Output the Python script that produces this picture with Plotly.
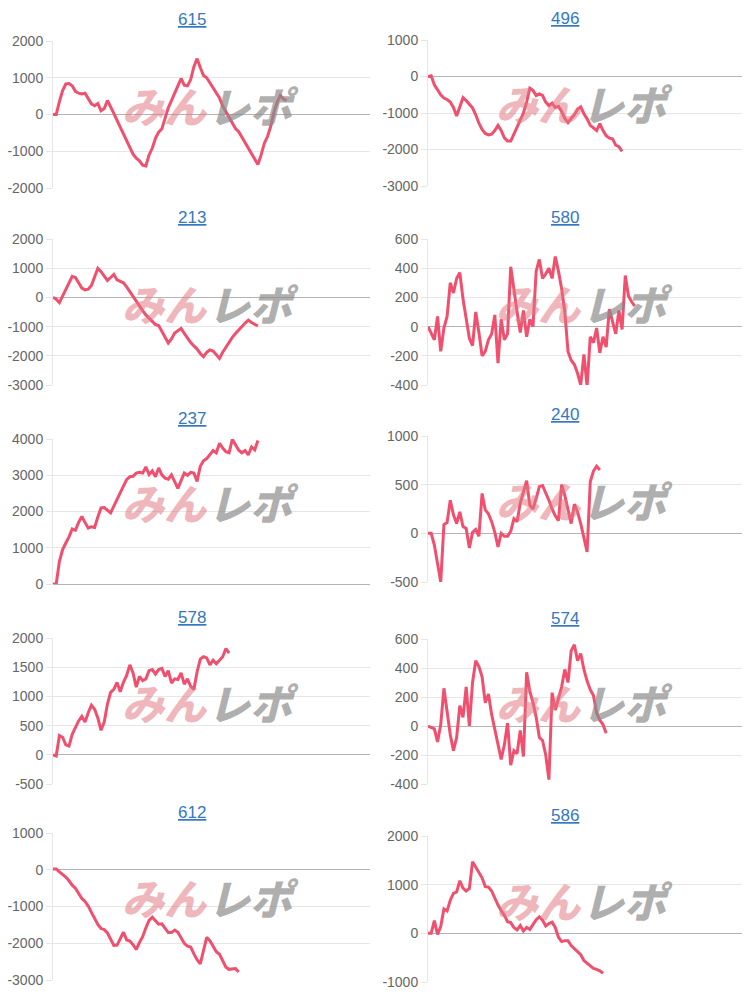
"""
plot.py -- 10 small balance charts (2 x 5 grid) with a watermark in each panel.
"""

import plotly.graph_objects as go

# ------------------------------------------------------------------
# Data
# ------------------------------------------------------------------

CHART_IDS = ["615", "496", "213", "580", "237", "240", "578", "574", "612", "586"]

VALUES_615 = [
    0, 0, 350, 650, 830, 840, 780, 630, 580, 560, 580, 430, 290, 240, 300, 100,
    160, 380, 220, 30, -160, -350, -540, -720, -900, -1080, -1190, -1260, -1380,
    -1400, -1100, -920, -650, -480, -390, -100, 180, 380, 560, 780, 980, 800, 780,
    950, 1300, 1520, 1280, 1060, 1000, 860, 720, 560, 450, 230, 80, -80, -260,
    -380, -470, -620, -780, -900, -1050, -1200, -1360, -1100, -780, -600, -320,
    60, 330, 520, 420, 380,
]
VALUES_496 = [
    0, 20, -230, -380, -500, -590, -630, -700, -850, -1080, -850, -580, -660, -770,
    -860, -1050, -1280, -1450, -1560, -1600, -1580, -1480, -1340, -1480, -1680,
    -1770, -1770, -1580, -1370, -1200, -1000, -700, -320, -380, -520, -480, -520,
    -700, -800, -730, -850, -820, -960, -1150, -1260, -1150, -1050, -900, -830,
    -1020, -1160, -1340, -1420, -1480, -1290, -1480, -1620, -1690, -1710, -1880,
    -1920, -2050,
]
VALUES_213 = [
    0, -60, -180, 60, 250, 480, 720, 680, 480, 320, 260, 280, 410, 700, 1000, 880,
    720, 580, 680, 790, 600, 550, 500, 360, 190, 20, -150, -300, -450, -600, -720,
    -830, -930, -960, -1150, -1380, -1560, -1420, -1220, -1140, -1060, -1230,
    -1400, -1550, -1660, -1770, -1920, -2030, -1880, -1800, -1840, -1950, -2090,
    -1880, -1700, -1520, -1370, -1240, -1100, -1000, -880, -780, -860, -930, -980,
]
VALUES_580 = [
    0, -50, -90, 70, -170, -10, 70, 300, 230, 330, 370, 190, 40, -80, -130, 100,
    -40, -200, -170, -90, -50, 80, -250, 50, -90, -50, 410, 240, 100, -40, 110, -70,
    50, 0, 380, 460, 330, 360, 400, 330, 480, 380, 260, 100, -170, -230, -260, -320,
    -400, -190, -410, -70, -110, -10, -180, -70, -140, 120, 40, -50, 110, -20, 350,
    210, 170, 140,
]
VALUES_237 = [
    0, 0, 620, 950, 1130, 1300, 1520, 1480, 1700, 1860, 1700, 1540, 1580, 1560,
    1850, 2100, 2110, 2030, 1960, 2150, 2320, 2500, 2700, 2880, 2960, 2970, 3060,
    3080, 3060, 3230, 3020, 3120, 2960, 3200, 3010, 2920, 2890, 3010, 2840, 2640,
    2850, 3060, 3000, 3080, 3060, 2830, 3250, 3400, 3460, 3580, 3680, 3620, 3880,
    3750, 3650, 3620, 3990, 3840, 3690, 3620, 3680, 3560, 3780, 3700, 3960,
]
VALUES_240 = [
    0, 0, -120, -300, -500, 90, 110, 340, 190, 100, 220, 70, 50, -150, 10, 40, -30,
    410, 240, 200, 120, 10, -140, 0, -30, -30, 20, 150, 120, 310, 440, 540, 290, 250,
    360, 480, 490, 420, 340, 250, 180, 130, 500, 390, 230, 100, 300, 220, 100, -40,
    -190, 530, 640, 690, 650,
]
VALUES_578 = [
    0, -20, 330, 300, 170, 150, 350, 470, 580, 660, 560, 720, 850, 780, 630, 420,
    560, 870, 1070, 1120, 1240, 1080, 1240, 1360, 1540, 1400, 1160, 1340, 1270,
    1300, 1440, 1460, 1380, 1460, 1480, 1340, 1440, 1230, 1300, 1290, 1400, 1210,
    1300, 1170, 1120, 1420, 1640, 1680, 1660, 1540, 1620, 1560, 1630, 1680, 1820,
    1740,
]
VALUES_574 = [
    0, -10, -20, -110, 10, 260, 80, -60, -170, -80, 140, 60, 270, 0, 300, 450, 410,
    340, 160, 220, 80, -20, -120, -230, -130, 20, -270, -170, -190, -30, -210, 370,
    240, 160, 60, -80, -100, -200, -370, 230, 110, 200, 270, 390, 300, 520, 560, 450,
    500, 390, 310, 250, 210, 90, 40, 10, -50,
]
VALUES_612 = [
    20, 20, -60, -130, -200, -300, -420, -500, -660, -780, -860, -990, -1160, -1330,
    -1490, -1600, -1630, -1720, -1900, -2060, -2050, -1850, -1700, -1910, -1940,
    -2040, -2170, -1980, -1820, -1580, -1380, -1290, -1400, -1480, -1470, -1580,
    -1710, -1710, -1640, -1700, -1860, -2000, -2080, -2100, -2290, -2450, -2560,
    -2200, -1840, -1930, -2100, -2230, -2300, -2470, -2650, -2710, -2710, -2690,
    -2780,
]
VALUES_586 = [
    0, 0, 260, -20, 140, 500, 460, 680, 820, 850, 1080, 930, 870, 920, 1470, 1360,
    1240, 1140, 960, 950, 870, 720, 580, 470, 370, 240, 220, 120, 70, 160, 50, 120,
    80, 180, 280, 340, 270, 150, 200, 230, 120, -80, -170, -150, -150, -250, -310,
    -370, -440, -560, -620, -670, -720, -740, -770, -820,
]

SERIES = [
    VALUES_615, VALUES_496, VALUES_213, VALUES_580, VALUES_237,
    VALUES_240, VALUES_578, VALUES_574, VALUES_612, VALUES_586,
]

# y axis range and tick step for each chart
Y_RANGES = [
    (-2000, 2000), (-3000, 1000), (-3000, 2000), (-400, 600), (0, 4000),
    (-500, 1000), (-500, 2000), (-400, 600), (-3000, 1000), (-1000, 2000),
]
Y_STEPS = [1000, 1000, 1000, 200, 1000, 500, 500, 200, 1000, 1000]

X_SLOTS = 100  # shared x slots, the data only fills part of them

# ------------------------------------------------------------------
# Layout (page pixels; the page body adds an 8px margin around the figure)
# ------------------------------------------------------------------

PAGE_W, PAGE_H = 750, 993
OFF = 8
W, H = PAGE_W - OFF, PAGE_H - OFF

COL_X = [(53, 370), (428, 743)]
PLOT_Y = [
    (41, 188), (40, 186),
    (239, 385), (239, 385),
    (439, 584), (436, 582),
    (638, 784), (639, 784),
    (833, 980), (836, 982),
]
TITLE_X = [192, 565]


def px(x):
    return (x - OFF) / W


def py(y):
    return 1 - (y - OFF) / H


LINE_COLOR = "#f0506e"
GRID_COLOR = "#e6e6e6"
ZERO_COLOR = "#b4b4b4"
TICK_FONT = dict(family="Arial, Liberation Sans, sans-serif", size=14, color="#666666")

fig = go.Figure()
annotations = []

for i, (chart_id, values) in enumerate(zip(CHART_IDS, SERIES)):
    col = i % 2
    n = "" if i == 0 else str(i + 1)
    x0, x1 = COL_X[col]
    top, bottom = PLOT_Y[i]

    fig.add_trace(
        go.Scatter(
            x=list(range(len(values))),
            y=values,
            mode="lines",
            line=dict(color=LINE_COLOR, width=3),
            xaxis=f"x{n}",
            yaxis=f"y{n}",
            hoverinfo="skip",
        )
    )

    fig.layout[f"xaxis{n}"] = dict(
        domain=[px(x0), min(px(x1), 1)],
        anchor=f"y{n}",
        range=[0, X_SLOTS - 1],
        showgrid=False,
        zeroline=False,
        showticklabels=False,
        showline=False,
        automargin=False,
        fixedrange=True,
    )
    lo, hi = Y_RANGES[i]
    tick_vals = list(range(lo, hi + 1, Y_STEPS[i]))
    fig.layout[f"yaxis{n}"] = dict(
        domain=[py(bottom), py(top)],
        anchor=f"x{n}",
        range=[lo, hi],
        tickmode="array",
        tickvals=tick_vals,
        ticktext=[str(v) for v in tick_vals],  # plain hyphen minus like the source
        showgrid=True,
        gridcolor=GRID_COLOR,
        gridwidth=1,
        zeroline=True,
        zerolinecolor=ZERO_COLOR,
        zerolinewidth=1,
        showline=True,
        linecolor=GRID_COLOR,
        ticks="outside",
        ticklen=6,
        tickcolor=GRID_COLOR,
        tickfont=TICK_FONT,
        automargin=False,
        fixedrange=True,
    )

    # chart title (underlined link style)
    annotations.append(dict(
        text=f"<u>{chart_id}</u>",
        xref="paper", yref="paper",
        x=px(TITLE_X[col]), y=py(top - 21),
        xanchor="center", yanchor="middle",
        showarrow=False,
        font=dict(family="Arial, Liberation Sans, sans-serif", size=17, color="#3478c0"),
    ))

    # watermark
    mid_x = (x0 + x1) / 2
    mid_y = (top + bottom) / 2 - 10
    annotations.append(dict(
        text="みん",
        xref="paper", yref="paper",
        x=px(mid_x - 47), y=py(mid_y),
        xanchor="center", yanchor="middle",
        showarrow=False,
        font=dict(family="Noto Sans CJK JP", size=42, weight=900, style="italic",
                  color="rgba(226,120,130,0.55)"),
    ))
    annotations.append(dict(
        text="レポ",
        xref="paper", yref="paper",
        x=px(mid_x + 42), y=py(mid_y),
        xanchor="center", yanchor="middle",
        showarrow=False,
        font=dict(family="Noto Sans CJK JP", size=42, weight=900, style="italic",
                  color="rgba(140,140,140,0.7)"),
    ))

fig.update_layout(
    template="none",
    width=W,
    height=H,
    margin=dict(l=0, r=0, t=0, b=0, autoexpand=False),
    paper_bgcolor="white",
    plot_bgcolor="white",
    showlegend=False,
    annotations=annotations,
)

fig.write_html("out.html")
